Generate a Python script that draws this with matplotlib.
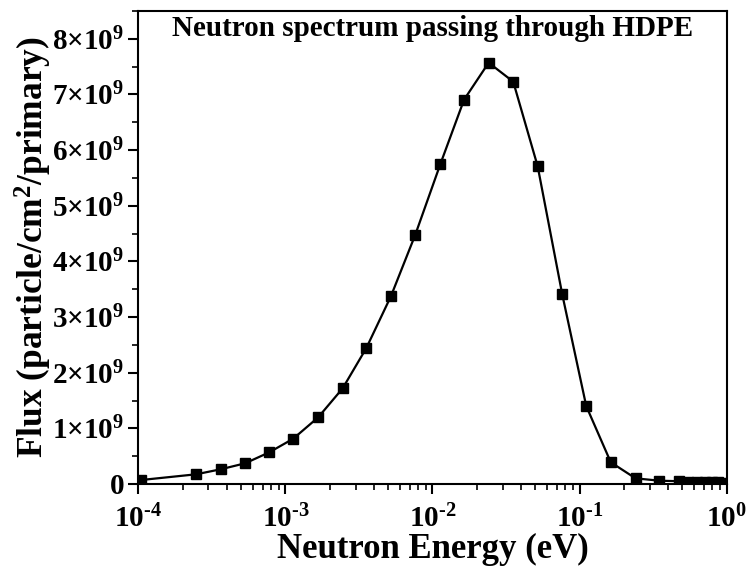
import numpy as np
import matplotlib
matplotlib.use("Agg")
import matplotlib.pyplot as plt
from matplotlib.ticker import LogLocator, MultipleLocator, FixedLocator, FuncFormatter

# Neutron flux behind the HDPE moderator, per energy bin
energy_eV = [1.05e-4, 2.47e-4, 3.63e-4, 5.33e-4, 7.77e-4, 1.13e-3, 1.67e-3, 2.45e-3,
             3.55e-3, 5.22e-3, 7.64e-3, 1.13e-2, 1.64e-2, 2.41e-2, 3.54e-2, 5.19e-2,
             7.62e-2, 0.111, 0.163, 0.240, 0.349, 0.477, 0.55, 0.63, 0.71, 0.79, 0.87, 0.96]
flux_1e9 = [0.072, 0.174, 0.264, 0.372, 0.569, 0.813, 1.197, 1.718,
            2.442, 3.375, 4.479, 5.745, 6.907, 7.571, 7.230, 5.709,
            3.411, 1.400, 0.390, 0.102, 0.059, 0.050, 0.040, 0.035, 0.032, 0.030, 0.028, 0.026]
flux = np.array(flux_1e9) * 1e9

x_major = [1e-4, 1e-3, 1e-2, 1e-1, 1e0]
y_major = np.arange(0, 9e9, 1e9)

plt.rcParams["font.family"] = "Liberation Serif"
plt.rcParams["font.weight"] = "bold"
plt.rcParams["mathtext.fontset"] = "custom"
plt.rcParams["mathtext.rm"] = "Liberation Serif:bold"
plt.rcParams["mathtext.it"] = "Liberation Serif:italic:bold"
plt.rcParams["mathtext.bf"] = "Liberation Serif:bold"

fig = plt.figure(figsize=(7.49, 5.68), dpi=100)
ax = fig.add_axes([0.1846, 0.1479, 0.7856, 0.8327])

ax.plot(energy_eV, flux, color="black", linewidth=1.6, marker="s", markersize=7,
        markerfacecolor="black", markeredgecolor="black")

ax.set_xscale("log")
ax.set_xlim(1e-4, 1e0)
ax.set_ylim(0, 8.5e9)

ax.xaxis.set_major_locator(FixedLocator(x_major))
ax.xaxis.set_minor_locator(LogLocator(base=10, subs=np.arange(2, 10)))
ax.xaxis.set_major_formatter(FuncFormatter(
    lambda v, p: r"$10^{\text{%d}}$" % int(round(np.log10(v)))))
ax.xaxis.set_minor_formatter(FuncFormatter(lambda v, p: ""))

ax.yaxis.set_major_locator(FixedLocator(y_major))
ax.yaxis.set_minor_locator(MultipleLocator(0.5e9))
ax.yaxis.set_major_formatter(FuncFormatter(
    lambda v, p: "0" if v == 0 else r"$%d{\times}10^{9}$" % int(round(v / 1e9))))

ax.tick_params(which="major", direction="out", length=7, width=1.5, labelsize=21, pad=3)
ax.tick_params(axis="x", which="major", pad=8)
ax.tick_params(which="minor", direction="out", length=4, width=1.2)
ax.tick_params(top=False, right=False)
for s in ax.spines.values():
    s.set_linewidth(1.5)

ax.set_xlabel("Neutron Energy (eV)", fontsize=25, fontweight="bold", labelpad=0)
ax.set_ylabel(r"Flux (particle/cm$^2$/primary)", fontsize=25.5, fontweight="bold", labelpad=-1)
ax.text(0.5, 0.992, "Neutron spectrum passing through HDPE", transform=ax.transAxes,
        ha="center", va="top", fontsize=21, fontweight="bold")

fig.savefig("out.png", dpi=100)
